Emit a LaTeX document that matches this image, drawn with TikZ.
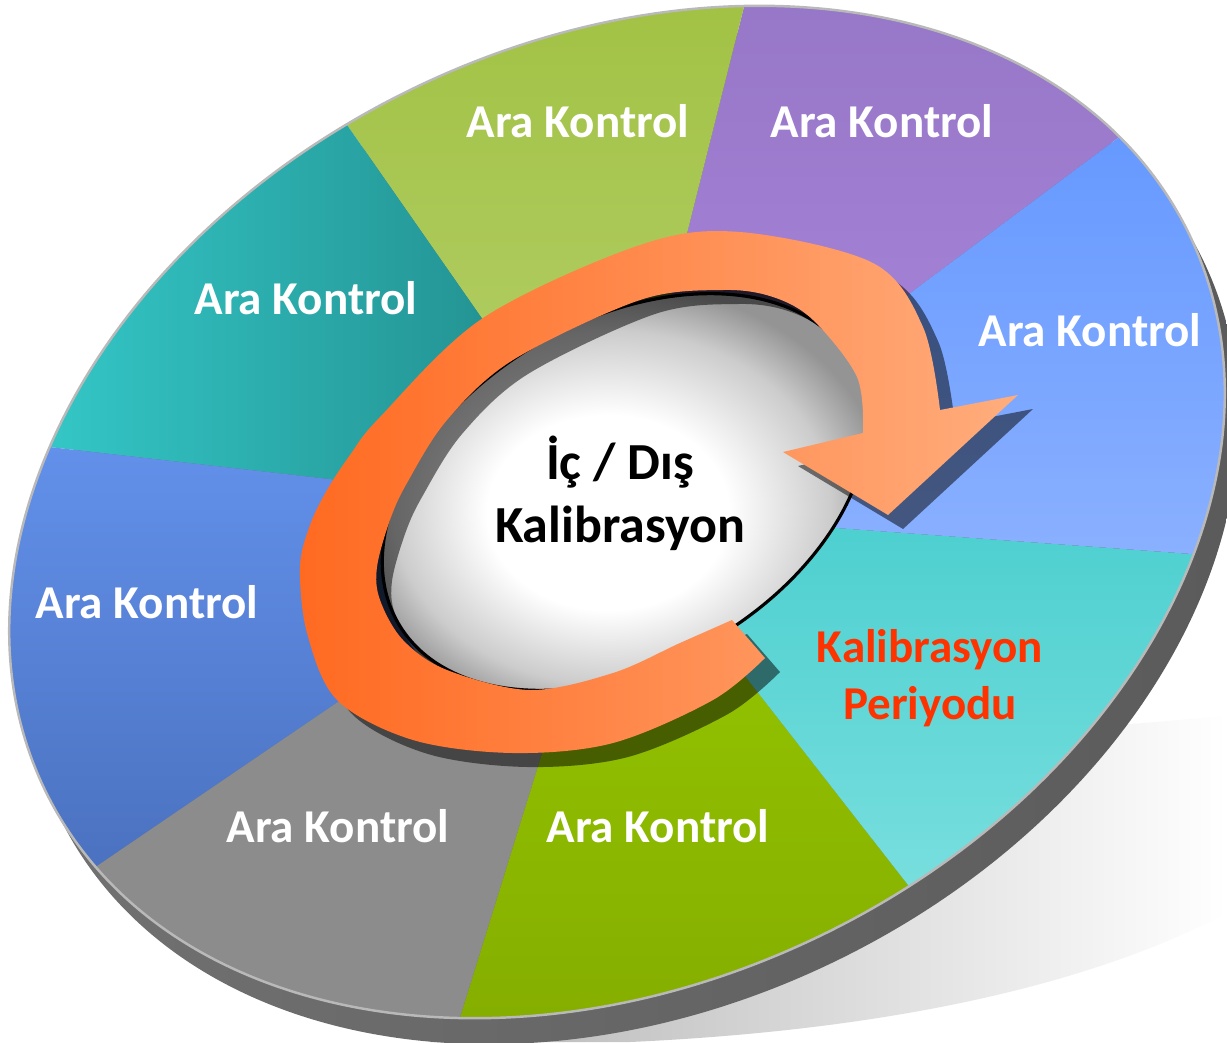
\documentclass[tikz,border=0pt]{standalone}
\usepackage{fontspec}
\setmainfont{Carlito}
\usetikzlibrary{positioning}

\definecolor{purpleT}{HTML}{9777C7}
\definecolor{purpleB}{HTML}{AA86DE}
\definecolor{limeT}{HTML}{A2C245}
\definecolor{limeB}{HTML}{B5D06C}
\definecolor{tealL}{HTML}{34C6C6}
\definecolor{tealR}{HTML}{1F8585}
\definecolor{blueLT}{HTML}{6290EA}
\definecolor{blueLB}{HTML}{4B72C0}
\definecolor{greyseg}{HTML}{8C8C8C}
\definecolor{grassT}{HTML}{97C900}
\definecolor{grassB}{HTML}{85AE00}
\definecolor{cyanT}{HTML}{4CCFCF}
\definecolor{cyanB}{HTML}{78DEDE}
\definecolor{blueRT}{HTML}{6699FF}
\definecolor{blueRB}{HTML}{8AB0FF}
\definecolor{orgdark}{HTML}{FF6A21}
\definecolor{orglight}{HTML}{FFAD7D}
\definecolor{periodred}{HTML}{FF3300}

\pgfdeclareradialshading{discshade}{\pgfpoint{-2bp}{-3bp}}{color(0bp)=(white); color(11bp)=(white); color(20bp)=(black!20); color(25bp)=(black!42); color(50bp)=(black!42)}

\newcommand{\orangearrow}{plot[smooth,tension=0.55] coordinates {(7.65,-6.58) (7.13,-7.00) (6.13,-7.43) (5.13,-7.53) (4.13,-7.40) (3.37,-7.00) (3.07,-6.33) (3.00,-5.67) (3.10,-5.25) (3.27,-4.90) (3.50,-4.55) (3.80,-4.17) (4.83,-3.18) (6.40,-2.45) (7.40,-2.32) (8.73,-2.63) (9.23,-3.27) (9.40,-4.10)}
  -- (10.18,-3.95) -- (8.88,-5.15) -- (7.83,-4.52)
  -- plot[smooth,tension=0.55] coordinates {(8.63,-4.33) (8.57,-3.77) (8.13,-3.20) (7.73,-2.97) (7.23,-2.90) (6.40,-3.00) (5.13,-3.60) (4.47,-4.20) (4.07,-4.83) (3.90,-5.20) (3.77,-5.67) (3.80,-6.00) (4.03,-6.40) (4.47,-6.70) (5.30,-6.90) (6.13,-6.73) (6.80,-6.43) (7.32,-6.20)} -- cycle}

\begin{document}
\begin{tikzpicture}[
  lbl/.style={font=\fontsize{13.4}{16}\selectfont\bfseries,text=white,align=center},
  ringframe/.style={shift={(6.17,-5.12)},rotate=26,xscale=6.36,yscale=4.70}]
  \clip (0,0) rectangle (12.27,-10.42);
  \fill[white] (0,0) rectangle (12.27,-10.42);

  % shadow on the ground
  \shade[left color=gray!58,right color=white] (4.3,-9.5) -- (10.6,-7.30) -- (12.27,-7.16) -- (12.27,-9.13)
    .. controls (10.9,-9.85) and (8.9,-10.30) .. (6.3,-10.42) -- (4.3,-10.42) -- cycle;

  % side of the disc
  \begin{scope}[shift={(0.14,-0.26)}]
    \begin{scope}[ringframe]
      \shade[left color=black!55,right color=black!65] (0,0) circle (1);
    \end{scope}
  \end{scope}

  % eight segments
  \begin{scope}[ringframe]
    \shade[top color=purpleT,bottom color=purpleB] (0,0) -- (14.4:1) arc[start angle=14.4,end angle=58.1,radius=1] -- cycle;
    \shade[top color=limeT,bottom color=limeB] (0,0) -- (58.1:1) arc[start angle=58.1,end angle=96.6,radius=1] -- cycle;
    \shade[left color=tealL,right color=tealR] (0,0) -- (96.6:1) arc[start angle=96.6,end angle=139.2,radius=1] -- cycle;
    \shade[top color=blueLT,bottom color=blueLB] (0,0) -- (139.2:1) arc[start angle=139.2,end angle=191.1,radius=1] -- cycle;
    \fill[greyseg] (0,0) -- (191.1:1) arc[start angle=191.1,end angle=235.2,radius=1] -- cycle;
    \shade[top color=grassT,bottom color=grassB] (0,0) -- (235.2:1) arc[start angle=235.2,end angle=278.9,radius=1] -- cycle;
    \shade[top color=cyanT,bottom color=cyanB] (0,0) -- (278.9:1) arc[start angle=278.9,end angle=321.8,radius=1] -- cycle;
    \shade[top color=blueRT,bottom color=blueRB] (0,0) -- (321.8:1) arc[start angle=321.8,end angle=374.4,radius=1] -- cycle;
    \draw[gray!55,line width=0.7pt] (0,0) circle (1);
  \end{scope}

  % centre disc and its hollow
  \fill[black,opacity=0.6,rotate around={30:(6.20,-4.87)}]
    (6.20,-4.87) ellipse[x radius=2.70,y radius=1.80];
  \draw[black,line width=0.9pt,shading=discshade,rotate around={30:(6.25,-4.92)}]
    (6.25,-4.92) ellipse[x radius=2.62,y radius=1.72];

  % circular arrow
  \fill[black,opacity=0.5,shift={(0.15,-0.14)}] \orangearrow;
  \shade[left color=orgdark,right color=orglight] \orangearrow;

  % labels
  \node[lbl] (k1) at (5.78,-1.21) {Ara Kontrol};
  \node[lbl] (k2) at (8.82,-1.21) {Ara Kontrol};
  \node[lbl] (k3) at (10.90,-3.30) {Ara Kontrol};
  \node[lbl] (k4) at (3.06,-2.98) {Ara Kontrol};
  \node[lbl] (k5) at (1.47,-6.02) {Ara Kontrol};
  \node[lbl] (k6) at (3.38,-8.26) {Ara Kontrol};
  \node[lbl] (k7) at (6.58,-8.26) {Ara Kontrol};
  \node[lbl,text=periodred,font=\fontsize{13.4}{16.2}\selectfont\bfseries] (period) at (9.30,-6.78) {Kalibrasyon\\Periyodu};
  \node[lbl,text=black,font=\fontsize{14.8}{17.9}\selectfont\bfseries] (kalib) at (6.20,-4.93) {İç / Dış\\Kalibrasyon};
\end{tikzpicture}
\end{document}
